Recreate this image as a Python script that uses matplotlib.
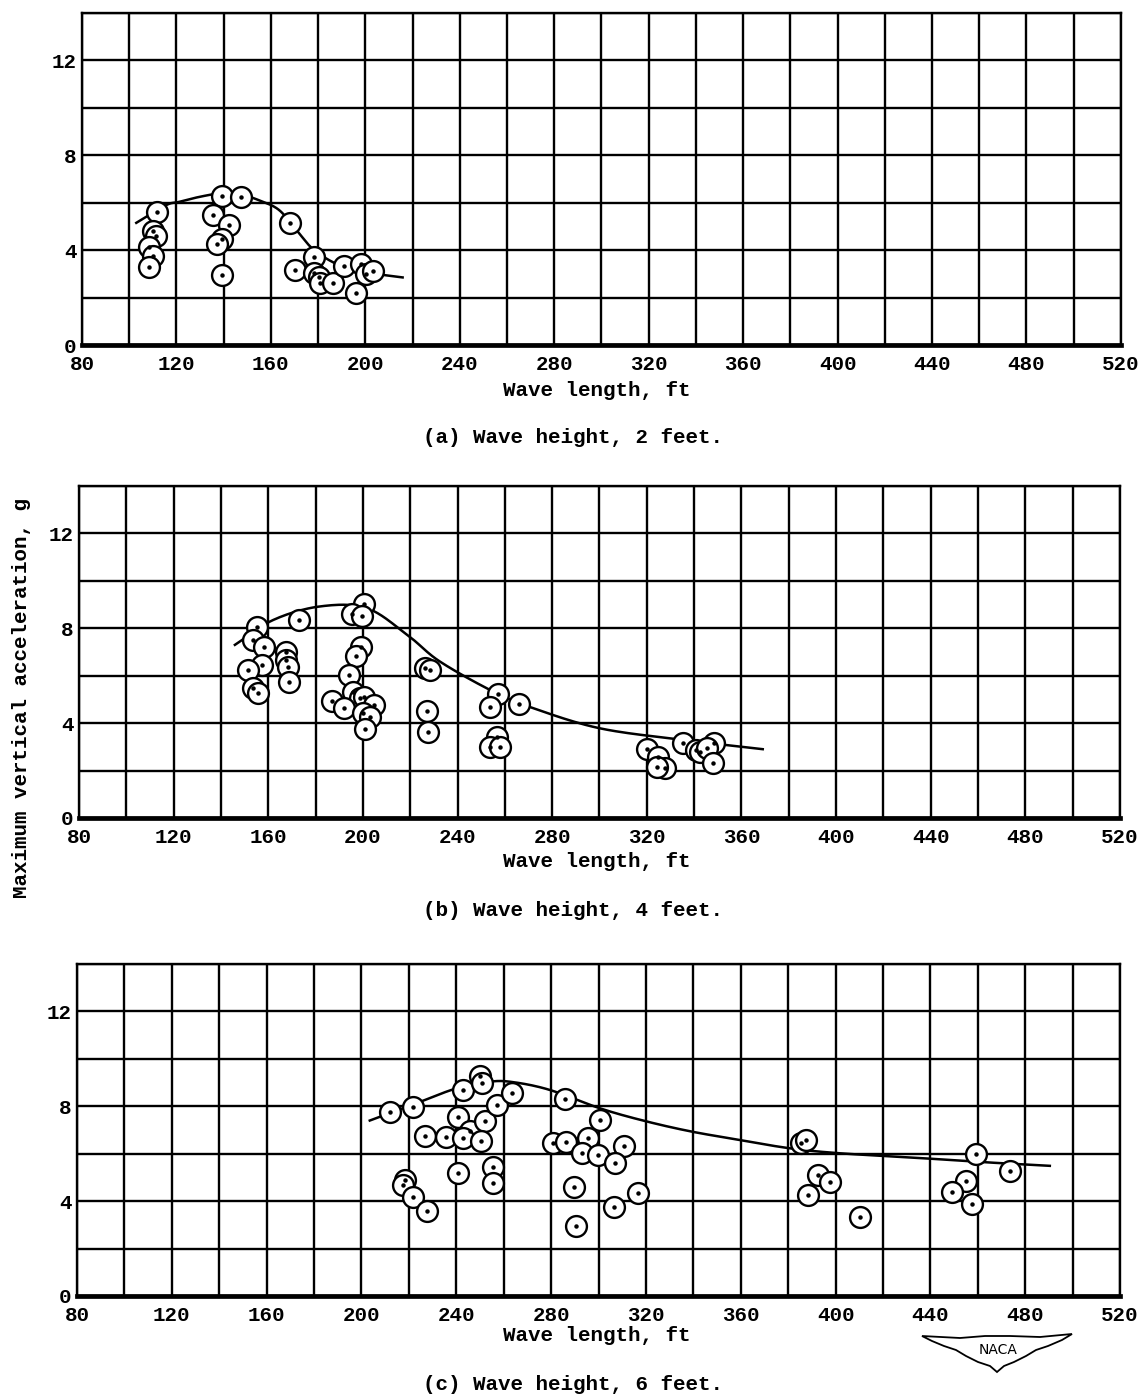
import matplotlib
matplotlib.use("Agg")
import matplotlib.pyplot as plt
import numpy as np

# ---- Data: wave length (ft) vs maximum vertical acceleration (g) ----
# (a) wave height 2 ft
a_len = [111.6, 110.2, 111.3, 108.5, 110.2, 108.2, 139.5, 147.3, 135.3, 142.4,
         139.3, 137.0, 139.3, 168.1, 178.4, 170.3, 178.4, 180.5, 181.0, 186.4,
         191.1, 198.2, 200.3, 203.4, 196.1]
a_acc = [5.61, 4.81, 4.59, 4.14, 3.75, 3.27, 6.29, 6.25, 5.47, 5.05,
         4.49, 4.25, 2.95, 5.15, 3.72, 3.16, 3.02, 2.85, 2.62, 2.62,
         3.33, 3.41, 2.99, 3.13, 2.18]
a_fit_len = [103, 115.5, 121, 130, 139.5, 148, 155, 163.6, 172, 178.4, 189, 203, 215.8]
a_fit_acc = [5.15, 5.89, 6.03, 6.25, 6.40, 6.32, 6.10, 5.68, 4.70, 4.00, 3.37, 3.03, 2.85]

# (b) wave height 4 ft
b_len = [155.1, 153.6, 158.2, 157.2, 151.5, 153.6, 155.7, 173.1, 167.3, 167.7,
         168.4, 168.7, 200.4, 195.2, 199.5, 199.0, 197.0, 194.1, 195.9, 198.7,
         186.8, 192.0, 200.4, 204.6, 199.9, 203.0, 201.1, 226.2, 228.3, 226.9,
         227.6, 257.2, 253.7, 266.1, 256.5, 253.7, 257.9, 320.2, 324.8, 327.6,
         324.1, 335.1, 341.0, 342.4, 348.4, 345.3, 348.1]
b_acc = [8.07, 7.51, 7.23, 6.46, 6.24, 5.47, 5.26, 8.33, 7.02, 6.67,
         6.38, 5.75, 9.03, 8.61, 8.50, 7.23, 6.81, 6.03, 5.33, 5.05,
         4.95, 4.63, 5.09, 4.77, 4.44, 4.27, 3.76, 6.32, 6.25, 4.53,
         3.64, 5.22, 4.70, 4.81, 3.43, 2.98, 2.98, 2.90, 2.59, 2.10,
         2.16, 3.15, 2.87, 2.80, 3.18, 2.94, 2.33]
b_fit_len = [145.9, 162.1, 181.8, 201.6, 219.0, 232.5, 255.1, 272.0, 300.2, 335.4, 369.0]
b_fit_acc = [7.30, 8.35, 8.92, 8.85, 7.70, 6.60, 5.33, 4.63, 3.78, 3.29, 2.90]

# (c) wave height 6 ft
c_len = [211.9, 221.8, 226.7, 235.6, 242.9, 249.9, 251.0, 240.8, 245.7, 242.9,
         252.0, 250.6, 257.0, 263.3, 255.5, 255.5, 240.8, 218.3, 217.6, 221.8,
         227.7, 285.8, 280.6, 286.2, 295.6, 293.2, 299.8, 300.8, 310.7, 306.9,
         289.6, 290.7, 316.7, 306.5, 385.6, 387.5, 392.7, 397.6, 388.4, 410.5,
         459.2, 473.5, 455.0, 449.0, 457.4]
c_acc = [7.78, 7.96, 6.75, 6.70, 8.69, 9.28, 9.00, 7.54, 6.98, 6.65,
         7.36, 6.55, 8.06, 8.55, 5.46, 4.75, 5.18, 4.89, 4.68, 4.19,
         3.60, 8.30, 6.44, 6.51, 6.65, 6.05, 5.95, 7.43, 6.33, 5.63,
         4.59, 2.97, 4.33, 3.77, 6.44, 6.58, 5.10, 4.82, 4.26, 3.32,
         5.99, 5.29, 4.85, 4.40, 3.88]
c_fit_len = [203.5, 223.2, 240.1, 254.1, 264.0, 279.5, 300.5, 318.8, 338.5, 359.6,
             380.7, 401.8, 437.0, 458.0, 490.4]
c_fit_acc = [7.40, 8.13, 8.76, 9.04, 9.02, 8.69, 7.92, 7.40, 6.95, 6.58,
             6.23, 6.02, 5.81, 5.67, 5.49]

x_ticks = [80, 120, 160, 200, 240, 280, 320, 360, 400, 440, 480, 520]
y_ticks = [0, 4, 8, 12]
captions = ["(a) Wave height, 2 feet.", "(b) Wave height, 4 feet.",
            "(c) Wave height, 6 feet."]

FONT = "Liberation Mono"
plt.rcParams["font.family"] = [FONT, "DejaVu Sans"]
plt.rcParams["font.weight"] = "bold"

fig = plt.figure(figsize=(11.48, 13.97), dpi=100)

# axes rectangles in figure fractions
rects = [
    (0.0714, 0.7530, 0.9050, 0.2378),
    (0.0688, 0.4145, 0.9068, 0.2376),
    (0.0671, 0.0723, 0.9085, 0.2376),
]
caption_y = [0.6865, 0.3486, 0.0090]
xlabel_y = [0.7208, 0.3830, 0.0440]

series = [
    (a_len, a_acc, a_fit_len, a_fit_acc),
    (b_len, b_acc, b_fit_len, b_fit_acc),
    (c_len, c_acc, c_fit_len, c_fit_acc),
]


def smooth(xs, ys):
    """Catmull-Rom curve through the fairing points."""
    pts = np.column_stack([np.asarray(xs, float), np.asarray(ys, float)])
    p = np.vstack([2 * pts[0] - pts[1], pts, 2 * pts[-1] - pts[-2]])
    out = []
    t = np.linspace(0, 1, 20, endpoint=False)[:, None]
    for i in range(1, len(p) - 2):
        p0, p1, p2, p3 = p[i - 1], p[i], p[i + 1], p[i + 2]
        seg = 0.5 * ((2 * p1) + (-p0 + p2) * t + (2 * p0 - 5 * p1 + 4 * p2 - p3) * t ** 2
                     + (-p0 + 3 * p1 - 3 * p2 + p3) * t ** 3)
        out.append(seg)
    out.append(pts[-1][None, :])
    out = np.vstack(out)
    return out[:, 0], out[:, 1]


for i, (rect, (xl, yl, fx, fy)) in enumerate(zip(rects, series)):
    ax = fig.add_axes(rect)
    ax.set_xlim(80, 520)
    ax.set_ylim(0, 14)
    xgrid = np.arange(80, 521, 20)
    ygrid = np.arange(0, 15, 2)
    ax.set_xticks(xgrid)
    ax.set_yticks(ygrid)
    ax.grid(True, color="black", linewidth=1.7)
    ax.set_axisbelow(True)
    ax.set_xticklabels([str(v) if v in x_ticks else "" for v in xgrid], fontsize=15)
    ax.set_yticklabels([str(v) if v in y_ticks else "" for v in ygrid], fontsize=15)
    ax.tick_params(axis="x", length=0, pad=7)
    ax.tick_params(axis="y", length=0, pad=4)
    for s in ["top", "left", "right"]:
        ax.spines[s].set_linewidth(1.7)
    ax.spines["bottom"].set_linewidth(3.4)

    sx, sy = smooth(fx, fy)
    ax.plot(sx, sy, color="black", linewidth=1.8, zorder=3)
    ax.plot(xl, yl, linestyle="none", marker="o", markersize=15,
            markerfacecolor="white", markeredgecolor="black",
            markeredgewidth=1.7, zorder=4)
    ax.plot(xl, yl, linestyle="none", marker="o", markersize=2.2,
            color="black", zorder=5)

    fig.text(0.52, xlabel_y[i], "Wave length, ft", ha="center", va="center",
             fontsize=15)
    fig.text(0.499, caption_y[i], captions[i], ha="center", va="center",
             fontsize=15)

fig.text(0.019, 0.50, "Maximum vertical acceleration, g", rotation=90,
         ha="center", va="center", fontsize=15)

# NACA wing emblem
wing_px = np.array([
    [922, 1336], [960, 1338], [985, 1336], [1010, 1336], [1040, 1337], [1072, 1334],
    [1062, 1340], [1048, 1346], [1036, 1350], [1026, 1356], [1014, 1362],
    [1004, 1366], [997, 1372], [990, 1366], [978, 1362], [966, 1356],
    [956, 1350], [944, 1346], [932, 1341],
])
wx = wing_px[:, 0] / 1148
wy = 1 - wing_px[:, 1] / 1397
emb = plt.Polygon(np.column_stack([wx, wy]), closed=True, fill=False,
                  edgecolor="black", linewidth=1.3, transform=fig.transFigure)
fig.patches.append(emb)
fig.text(998 / 1148, 1 - 1350 / 1397, "NACA", ha="center", va="center",
         fontsize=10, family="DejaVu Sans", fontweight="normal")

fig.savefig("out.png", dpi=100, facecolor="white")
